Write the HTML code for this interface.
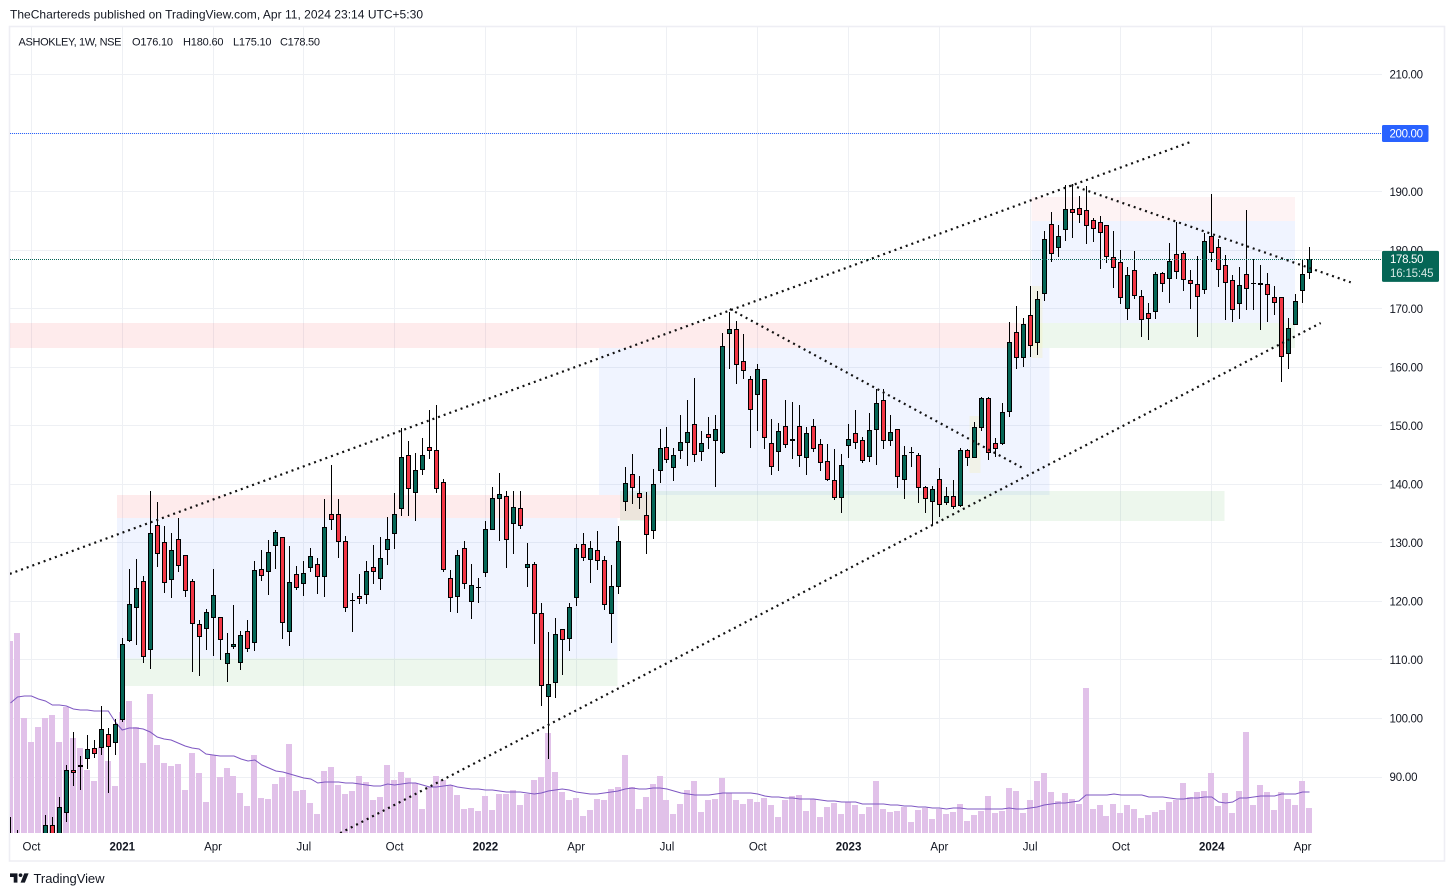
<!DOCTYPE html>
<html lang="en">
<head>
<meta charset="utf-8">
<title>ASHOKLEY weekly chart</title>
<style>
html,body{margin:0;padding:0;background:#fff;width:1454px;height:896px;overflow:hidden}
svg{display:block;font-family:"Liberation Sans",Arial,sans-serif}
text{fill:#131722}
</style>
</head>
<body>
<svg id="chart" xmlns="http://www.w3.org/2000/svg" width="1454" height="896" viewBox="0 0 1454 896">
  <defs><clipPath id="pane"><rect x="10" y="27" width="1372" height="806"/></clipPath></defs>
  <rect x="9.5" y="26.5" width="1435" height="834.5" fill="none" stroke="#eeeef4" stroke-width="1.6"/>
  <text x="10" y="18.5" font-size="12" textLength="413" lengthAdjust="spacing">TheChartereds published on TradingView.com, Apr 11, 2024 23:14 UTC+5:30</text>
  <g id="grid" shape-rendering="crispEdges"></g>
  <g id="zones" clip-path="url(#pane)" shape-rendering="crispEdges"></g>
  <g id="volume" clip-path="url(#pane)" shape-rendering="crispEdges"></g>
  <polyline id="ma-line" clip-path="url(#pane)" fill="none" stroke="#7e57c2" stroke-width="1"/>
  <g id="candles" clip-path="url(#pane)" shape-rendering="crispEdges"></g>
  <g id="trendlines" clip-path="url(#pane)"></g>
  <g id="pricelines"></g>
  <g id="price-axis"></g>
  <g id="time-axis"></g>
  <g font-size="11">
    <text x="18.5" y="45.5" textLength="103" lengthAdjust="spacing">ASHOKLEY, 1W, NSE</text>
    <text x="132" y="45.5" textLength="41" lengthAdjust="spacing">O176.10</text>
    <text x="183" y="45.5" textLength="40.5" lengthAdjust="spacing">H180.60</text>
    <text x="233" y="45.5" textLength="38.5" lengthAdjust="spacing">L175.10</text>
    <text x="280" y="45.5" textLength="40" lengthAdjust="spacing">C178.50</text>
  </g>
  <g>
    <path transform="translate(8.76 869.6) scale(0.62)" fill="#131722" d="M14 6H2v6h6v9h6V6Zm12 15h-7l6-15h7l-6 15Zm-7-9a3 3 0 1 0 0-6 3 3 0 0 0 0 6Z"/>
    <text x="33.5" y="883" font-size="13" textLength="71" lengthAdjust="spacing" fill="#2a2e39">TradingView</text>
  </g>
</svg>
<script>
// Bars run from bar index -16 (Sep 2020) through 170 (Apr 2024); index 0 is the first bar of 2021.
const firstBarIndex = -16;
const opens = [
78,78,77,77,77,78,81.8,79,83.9,91.2,91.7,93.1,95,95,97.3,95.8,
99.7,113.2,118.9,123.5,111.7,133,130.1,123.6,130.7,127.9,
123.5,116.1,115.3,117.2,117.3,109.3,112.2,109.5,115,112.9,
125.5,125,129.5,131,114.8,124.7,122.9,125.7,126.4,124.2,
134.9,134.9,130.3,120.3,121,121.1,125.9,123.8,128.8,131.5,
135.8,145,138.5,142.4,146.4,145.9,140.4,124,120.8,129.1,
119.9,122.4,124.8,132.2,137.5,138,133.2,135.9,125.7,126.4,
118,103.7,106,115.3,113.6,120.6,129.8,127.1,128.8,127.1,
117.8,122.5,137,141.8,138.5,134.8,132,142.3,146.4,142.8,
145.7,147.1,150.3,145.5,148.6,147.4,145.3,165.7,166.5,161.1,
158,155.3,158,147.1,145.5,150,147.4,150,144.5,150,
146.9,144,140.7,137.7,146.5,148.8,147.6,144.7,149.3,154.4,
147.4,149.4,140.7,145.4,145,139.5,137,140.9,136.8,138,
136.3,145.9,144.5,149.6,154.7,147.1,146.9,152.3,166,161.6,
168.9,164.1,172.5,184.5,180.4,183.4,187,187.2,186.8,185.1,
184.8,184.3,178.8,178,169.9,176.6,172.2,169.3,169.4,176.1,
175.1,179.3,179.5,174.9,174.2,173.2,182.4,180.5,177.5,174.9,
170.8,175.9,174.3,174.4,174.2,172,172,162.3,167.2,173,176.1];
const highs = [
83.2,80.9,79.5,79.5,79.5,83.5,83.2,86.6,92,97.7,93.6,97.2,96.3,102.1,98.4,99.9,
113.7,125.5,127.2,124.3,138.9,137,132.9,131.7,134.2,127.9,
123.8,116.8,118.7,125.5,117.3,114.6,119.4,115,116.8,126.9,
128.8,130.5,132.2,131,129.5,126,126.9,129.1,127.4,137.5,
143.3,137.5,131.2,121.4,124.7,126.9,129.6,131,134.4,138.5,
149.6,147.4,145.3,147.9,152.7,153.5,140.9,125.4,128.8,130.3,
126.4,124,133.7,139.5,141.9,138.9,138.9,138.9,130,126.7,
119.7,114.8,117.2,115.3,119.7,129.8,131.7,130.3,132,127.7,
126.2,132.9,143,145.2,141.4,138.7,142.6,149.4,149.8,146.2,
151.8,154.4,158.2,149.1,151.5,151.8,165.8,169.4,167.9,165.7,
158.5,160.6,158,151.1,150.5,154.4,154,153.5,149.8,151.1,
147.8,146.9,146,145.2,150.3,152.7,148.1,152.2,156.3,156.3,
151.8,149.4,146.5,146.4,145.3,139.7,139.7,142.8,139.5,140.7,
146.2,146,150.6,154.9,154.9,147.9,153.9,167.7,170.5,168.4,
173.9,173,183.3,186.5,184.3,191.1,191.3,189.2,190.9,185.5,
185.8,184.3,183.3,180,177.1,179.8,173.2,171,176.3,176.3,
181.2,184.8,179.8,176.6,179,182.9,189.6,181.9,179.2,175.8,
177.1,186.9,178.5,177.5,176.1,173.9,172,168.4,172.5,178.5,180.6];
const lows = [
76,75,75,75,75,76,77,78,82.3,88.5,87.8,91.4,93.3,93.8,87.3,93.8,
99.4,113,112.6,109.5,108.4,125.9,121.4,120.6,125,120.8,
107.9,107.3,111.7,110.7,110,106.2,111.9,108.3,111.4,111.5,
123.5,121.1,125.5,113.6,112.4,121.9,121,125,121.2,120.8,
132.2,127.4,118.2,114.8,119.6,119.6,122.9,121.9,126.2,129,
134.6,134.6,133.7,141.6,144.3,138.5,125,118.2,118,122.1,
117,119.7,124.2,132.2,130.3,125.7,128.1,132.4,122.5,112.7,
102.1,93.1,103.5,107.4,111.5,119.2,126.9,123.1,125.4,118.5,
112.9,121.2,135.4,136.6,135.8,128.1,130.7,140.2,143.6,140.6,
144.3,143.1,143.8,144,146,139.5,145.2,159.7,157.1,158,
146.2,149.1,146,141.6,142.3,146.2,144.3,143,141.6,145.5,
142.3,140.6,137.3,135.1,144.5,146,143.6,143.8,143.3,146,
146.5,139.4,137.5,143,136.8,135.1,133,134.4,136.5,135.8,
136.1,143.1,144.5,149.1,144.1,144.7,146.7,151.5,159.7,160,
161.7,162.1,171.3,178,178.8,181.6,182.1,184.6,181.1,181.4,
176.8,177.8,173.5,170.8,168.1,171.7,165.2,164.7,168.2,172.8,
171,175.1,173,170,165.2,172.5,178,173.7,168.1,167.7,
168.2,169.8,169.8,166.4,167.7,168.9,157.5,159.7,167.2,171,175.1];
const closes = [
77.5,77,76,76,76,81.8,78,84.9,91.2,90.7,92,94.8,93.9,98.2,95.1,99,
112.7,119.6,122.3,110.5,131.7,128.1,123.1,128.8,126,121.8,
116.1,113.9,118.2,121.1,113.4,111.2,112.7,114.2,111.9,125.4,
124.3,128.4,131.9,116.3,123.3,122.3,124.8,127.7,124.2,132.7,
133.9,130.1,118.9,120.1,120.4,125.2,125,127.4,130.7,134.9,
144.7,139.2,142.4,145,145.7,139.2,125.4,120.6,127.9,122.9,
122.8,122.5,132.4,137.7,138.3,130.5,136.1,132.9,126.4,117.8,
105.5,105.9,114.4,113.4,119,129.1,127.4,129.1,126.9,119.4,
122.7,130.3,140.2,139.4,137.7,131.4,140.1,146.2,144.1,145,
147.2,148.9,145,147.1,147.9,149.4,163.6,166.5,160.4,159.4,
152.7,159.7,147.9,143,149.1,146.7,147.8,144.8,148.8,146,
143.6,140.7,137.7,143.3,147.8,147.1,144,149.3,153.9,147.4,
148.9,141.3,145,145.6,139.4,137.5,139.2,136.5,138,136.1,
145.9,144.5,149.8,154.7,145.3,146,152.3,164.3,161.6,167.4,
163.6,171.7,181.9,179.3,182.4,187,186.3,186,184.1,183.6,
182.9,178.8,176.9,171.8,175.8,172.2,168.1,168.2,175.9,174.2,
178.1,176.3,174.9,174.2,172,181.6,179.5,176.6,174.4,169.8,
174,173.4,174.4,174,172.3,171,161.7,166.7,171.3,175.9,178.5];
const volumes = [
192,200,115,91,106,115,118,91,126,95,85,63,52,86,72,47,
121,132,106,70,139,88,70,67,69,43,
80,60,31,78,56,65,57,40,27,78,
35,34,49,56,89,42,43,30,19,62,
66,48,39,42,57,51,33,36,68,53,
61,55,50,24,46,57,53,48,38,24,
25,22,37,23,39,39,43,28,39,53,
56,100,61,41,33,35,17,23,34,33,
44,46,78,46,24,36,49,57,33,19,
29,43,52,21,33,34,55,40,33,29,
34,31,35,28,16,33,37,38,22,34,
16,26,30,19,31,28,19,26,52,24,
21,22,26,11,23,25,14,24,19,21,
29,12,18,22,37,20,22,45,42,20,
33,52,60,41,32,40,34,29,145,24,
28,17,29,20,28,24,15,18,21,23,
31,33,50,36,41,42,60,27,40,20,
42,101,28,48,41,23,41,34,28,52,25];
const volumeMA = [
130,136,137,137,134,132,128,128,127,124,123,123,122,122,122,111,
103,105,105,104,101,96,94,93,90,87,
85,84,79,78,77,77,77,74,72,73,
68,65,62,61,59,57,55,54,50,51,
51,51,50,50,49,48,47,47,49,48,
49,50,50,48,46,46,47,48,46,45,
44,44,43,43,42,41,41,41,40,39,
40,42,43,44,43,41,40,39,39,40,
41,42,44,45,44,44,45,45,44,42,
40,39,38,38,38,39,40,40,40,40,
40,39,37,36,36,35,35,34,34,34,
33,32,32,31,31,31,29,29,29,29,
28,28,27,27,26,26,25,25,24,25,
25,24,24,24,24,24,24,25,24,24,
25,26,28,29,30,30,31,32,38,38,
38,38,39,38,38,38,38,36,36,36,
35,34,34,35,35,36,36,31,30,31,
35,35,36,37,37,37,39,39,39,41,41];
const priceTicks = [210,200,190,180,170,160,150,140,130,120,110,100,90];
const timeLabels = ["Oct","2021","Apr","Jul","Oct","2022","Apr","Jul","Oct","2023","Apr","Jul","Oct","2024","Apr"];
const timeLabelBars = [-13,0,13,26,39,52,65,78,91,104,117,130,143,156,169];
// Drawings in chart coordinates: bar index and price.
const trendStartBars = [-16.1,31.2,87,135.9];
const trendStartPrices = [124.7,80.4,169.95,191.1];
const trendEndBars = [153,171.6,128.9,175.9];
const trendEndPrices = [198.5,167.55,142.8,174.5];
const trendNames = ["upper-channel-line","lower-channel-line","first-falling-trend-line","second-falling-trend-line"];
const zoneFromBars = [-0.76,71.3,-0.76,0,68.3,71.3,-16.1,130.2,130.2,130.2,121.3,130.2];
const zoneToBars = [71.3,75.7,70.9,70.9,132.8,157.8,130.2,167.9,167.9,167.9,122.9,131.8];
const zoneTopPrices = [138.18,138.18,134.24,110.25,163.3,138.85,167.55,167.55,184.98,189.08,151.67,173.88];
const zoneBottomPrices = [134.24,133.91,110.25,105.54,138.18,133.74,163.3,163.3,167.55,184.98,141.93,161.58];
const zoneKinds = ["supply","supply","range","demand","range","demand","supply","demand","range","faintsupply","highlight","highlight"];
const zoneFills = {supply:"rgba(242,54,69,0.1)",faintsupply:"rgba(242,54,69,0.06)",range:"rgba(41,98,255,0.07)",demand:"rgba(76,175,80,0.1)",highlight:"rgba(245,235,150,0.22)"};
const lastPrice = 178.5;
const alertPrice = 200;
const countdownText = "16:15:45";

const NS = "http://www.w3.org/2000/svg";
const pxPerBar = 6.984, barZeroX = 122.24, priceRefY = 777, priceRef = 90, pxPerPrice = 5.854;
const volumeBaseY = 833, pxPerVolume = 1, paneLeft = 10, paneRight = 1382;
const UP = "#056656", DOWN = "#f23645", WICK = "#000";
const xOf = i => barZeroX + pxPerBar * i;
const yOf = p => priceRefY - (p - priceRef) * pxPerPrice;
const yVol = v => volumeBaseY - v * pxPerVolume;
function mk(tag, attrs, parent){
  const e = document.createElementNS(NS, tag);
  for (const k in attrs) e.setAttribute(k, attrs[k]);
  parent.appendChild(e);
  return e;
}
const gGrid = document.getElementById("grid");
const gZones = document.getElementById("zones");
const gVol = document.getElementById("volume");
const gCandles = document.getElementById("candles");
const gTrend = document.getElementById("trendlines");
const gPriceLines = document.getElementById("pricelines");
const gPriceAxis = document.getElementById("price-axis");
const gTimeAxis = document.getElementById("time-axis");

priceTicks.forEach(p => {
  const l = mk("rect", {x: paneLeft, y: Math.floor(yOf(p)), width: paneRight - paneLeft, height: 1, fill: "#eef0f4"}, gGrid);
  
  
  const t = mk("text", {x: 1389.5, y: yOf(p) + 4.2, "font-size": 11.5, textLength: p >= 100 ? 33.5 : 28, lengthAdjust: "spacing"}, gPriceAxis);
  
  
  t.textContent = p.toFixed(2);
});
timeLabels.forEach((label, k) => {
  const x = xOf(timeLabelBars[k]);
  const l = mk("rect", {x: Math.floor(x), y: 27, width: 1, height: 806, fill: "#eef0f4"}, gGrid);
  
  
  const isYear = /^\d+$/.test(label);
  const t = mk("text", {x: x, y: 850.5, "font-size": 11.5, "text-anchor": "middle", "font-weight": isYear ? "bold" : "normal"}, gTimeAxis);
  
  
  t.textContent = label;
});

zoneKinds.forEach((kind, k) => {
  const x1 = xOf(zoneFromBars[k]), x2 = xOf(zoneToBars[k]);
  const y1 = yOf(zoneTopPrices[k]), y2 = yOf(zoneBottomPrices[k]);
  const r = mk("rect", {x: x1, y: y1, width: x2 - x1, height: y2 - y1, fill: zoneFills[kind]}, gZones);
  
  
});

volumes.forEach((v, k) => {
  const left = Math.floor(xOf(firstBarIndex + k)) - 3;
  const r = mk("rect", {x: left, y: yVol(v), width: 6, height: v * pxPerVolume, fill: "#e1c1e9"}, gVol);
  
  
});
document.getElementById("ma-line").setAttribute("points",
  volumeMA.map((v, k) => xOf(firstBarIndex + k).toFixed(1) + "," + yVol(v).toFixed(1)).join(" "));

opens.forEach((open, k) => {
  const close = closes[k], high = highs[k], low = lows[k];
  const cx = Math.floor(xOf(firstBarIndex + k));
  const g = mk("g", {}, gCandles);
  
  
  const top = Math.round(yOf(Math.max(open, close)));
  const bottom = Math.max(top + 1, Math.round(yOf(Math.min(open, close))));
  const wick = mk("rect", {x: cx, y: Math.round(yOf(high)), width: 1, height: Math.max(1, Math.round(yOf(low)) - Math.round(yOf(high))), fill: WICK}, g);
  
  
  const outline = mk("rect", {x: cx - 2, y: top, width: 5, height: bottom - top, fill: "#000"}, g);
  
  
  if (bottom - top > 2) {
    const body = mk("rect", {x: cx - 1, y: top + 1, width: 3, height: bottom - top - 2, fill: close >= open ? UP : DOWN}, g);
    
    
  }
});

trendNames.forEach((name, k) => {
  const l = mk("line", {x1: xOf(trendStartBars[k]), y1: yOf(trendStartPrices[k]), x2: xOf(trendEndBars[k]), y2: yOf(trendEndPrices[k]),
    stroke: "#111", "stroke-width": 2.2, "stroke-dasharray": "2 4"}, gTrend);
  
  
});

const alertLine = mk("line", {x1: paneLeft, x2: paneRight, y1: Math.round(yOf(alertPrice)) + .5, y2: Math.round(yOf(alertPrice)) + .5, stroke: "#2962ff", "stroke-width": 1, "stroke-dasharray": "1 1"}, gPriceLines);


const lastLine = mk("line", {x1: paneLeft, x2: paneRight, y1: Math.round(yOf(lastPrice)) + .5, y2: Math.round(yOf(lastPrice)) + .5, stroke: UP, "stroke-width": 1, "stroke-dasharray": "1 1"}, gPriceLines);



const alertBox = mk("rect", {x: 1382, y: yOf(alertPrice) - 8, width: 46.5, height: 17, rx: 1.5, fill: "#2962ff"}, gPriceAxis);


const alertText = mk("text", {x: 1389.5, y: yOf(alertPrice) + 4.2, "font-size": 11.5, textLength: 33.5, lengthAdjust: "spacing", style: "fill:#fff"}, gPriceAxis);


alertText.textContent = alertPrice.toFixed(2);

const lastBox = mk("rect", {x: 1382, y: yOf(lastPrice) - 8, width: 57, height: 31, rx: 1.5, fill: UP}, gPriceAxis);


const lastText = mk("text", {x: 1390, y: yOf(lastPrice) + 4.2, "font-size": 11.5, textLength: 33.5, lengthAdjust: "spacing", style: "fill:#fff"}, gPriceAxis);


lastText.textContent = lastPrice.toFixed(2);
const countdown = mk("text", {x: 1390, y: yOf(lastPrice) + 18.2, "font-size": 11.5, textLength: 43.5, lengthAdjust: "spacing", style: "fill:#d5e8e4"}, gPriceAxis);


countdown.textContent = countdownText;
</script>
</body>
</html>
